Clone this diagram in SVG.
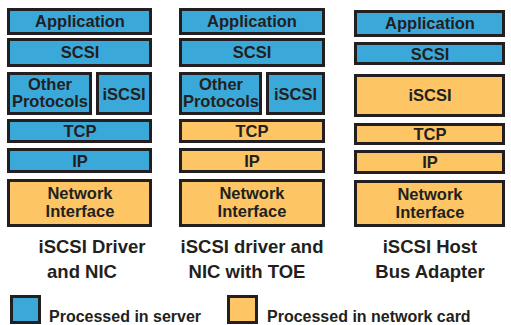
<svg xmlns="http://www.w3.org/2000/svg" width="511" height="325" viewBox="0 0 511 325">
<style>
.b{fill:#3aa8d9;stroke:#231f20;stroke-width:3}
.o{fill:#fdc564;stroke:#231f20;stroke-width:3}
text{font-family:"Liberation Sans",Arial,sans-serif;font-weight:bold;fill:#231f20;text-anchor:middle}
.l{font-size:16.5px}
.t{font-size:18.5px}
.g{font-size:16px;text-anchor:start}
</style>
<rect width="511" height="325" fill="#ffffff"/>
<g id="col1">
<g id="c1-app"><rect class="b" x="8.5" y="9.5" width="142" height="24"/><text class="l" x="80" y="27">Application</text></g>
<g id="c1-scsi"><rect class="b" x="8.5" y="39.5" width="142" height="26"/><text class="l" x="80" y="58">SCSI</text></g>
<g id="c1-other"><rect class="b" x="8.5" y="73.5" width="82" height="40"/><text class="l" x="50" y="90">Other</text><text class="l" x="50" y="107">Protocols</text></g>
<g id="c1-iscsi"><rect class="b" x="97.5" y="73.5" width="53" height="40"/><text class="l" x="124" y="99.5">iSCSI</text></g>
<g id="c1-tcp"><rect class="b" x="8.5" y="120.5" width="142" height="21"/><text class="l" x="80" y="137">TCP</text></g>
<g id="c1-ip"><rect class="b" x="8.5" y="149.5" width="142" height="22"/><text class="l" x="80" y="166.5">IP</text></g>
<g id="c1-ni"><rect class="o" x="8.5" y="180.5" width="142" height="45"/><text class="l" x="80" y="199">Network</text><text class="l" x="80" y="217">Interface</text></g>
</g>
<g id="col2">
<g id="c2-app"><rect class="b" x="180.5" y="9.5" width="143" height="24"/><text class="l" x="252" y="27">Application</text></g>
<g id="c2-scsi"><rect class="b" x="180.5" y="39.5" width="143" height="26"/><text class="l" x="252" y="58">SCSI</text></g>
<g id="c2-other"><rect class="b" x="180.5" y="73.5" width="80" height="40"/><text class="l" x="221" y="90">Other</text><text class="l" x="221" y="107">Protocols</text></g>
<g id="c2-iscsi"><rect class="b" x="267.5" y="73.5" width="56" height="40"/><text class="l" x="295.5" y="99.5">iSCSI</text></g>
<g id="c2-tcp"><rect class="o" x="180.5" y="120.5" width="143" height="21"/><text class="l" x="252" y="137">TCP</text></g>
<g id="c2-ip"><rect class="o" x="180.5" y="149.5" width="143" height="22"/><text class="l" x="252" y="166.5">IP</text></g>
<g id="c2-ni"><rect class="o" x="180.5" y="180.5" width="143" height="45"/><text class="l" x="252" y="199">Network</text><text class="l" x="252" y="217">Interface</text></g>
</g>
<g id="col3">
<g id="c3-app"><rect class="b" x="355.5" y="11.5" width="148" height="24"/><text class="l" x="430" y="29">Application</text></g>
<g id="c3-scsi"><rect class="b" x="355.5" y="43.5" width="148" height="20"/><text class="l" x="430" y="59.5">SCSI</text></g>
<g id="c3-iscsi"><rect class="o" x="355.5" y="75.5" width="148" height="40"/><text class="l" x="430" y="101">iSCSI</text></g>
<g id="c3-tcp"><rect class="o" x="355.5" y="124.5" width="148" height="19"/><text class="l" x="430" y="140">TCP</text></g>
<g id="c3-ip"><rect class="o" x="355.5" y="151.5" width="148" height="21"/><text class="l" x="430" y="168">IP</text></g>
<g id="c3-ni"><rect class="o" x="355.5" y="181.5" width="148" height="44"/><text class="l" x="430" y="200">Network</text><text class="l" x="430" y="218">Interface</text></g>
</g>
<g id="titles">
<text class="t" x="92" y="253">iSCSI Driver</text>
<text class="t" x="82" y="278">and NIC</text>
<text class="t" x="252" y="253">iSCSI driver and</text>
<text class="t" x="247" y="278">NIC with TOE</text>
<text class="t" x="430" y="253">iSCSI Host</text>
<text class="t" x="430" y="278">Bus Adapter</text>
</g>
<g id="legend">
<g id="leg-server"><rect class="b" x="11.5" y="296.5" width="28" height="26"/><text class="g" x="49" y="322">Processed in server</text></g>
<g id="leg-card"><rect class="o" x="228.5" y="296.5" width="28" height="26"/><text class="g" x="267" y="322">Processed in network card</text></g>
</g>
<g id="connectors"/>
</svg>
